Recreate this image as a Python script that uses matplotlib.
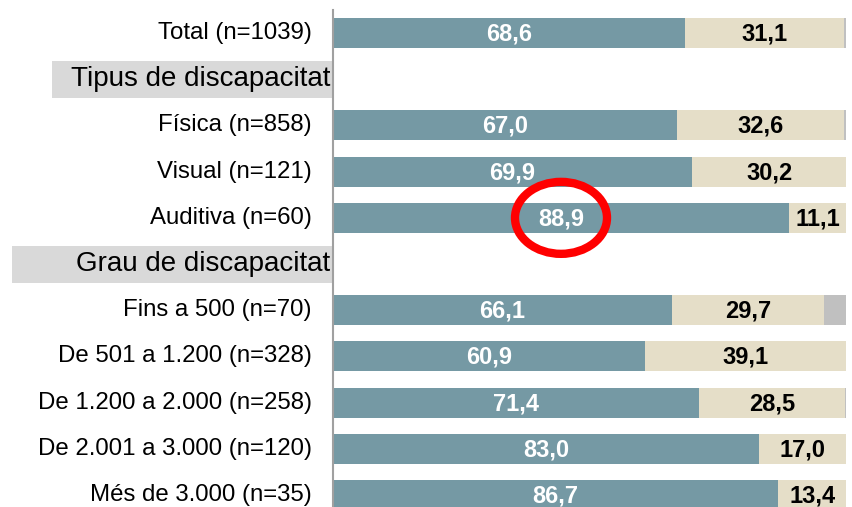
import matplotlib
matplotlib.use("Agg")
import matplotlib.pyplot as plt
from matplotlib.patches import Rectangle, Ellipse
from matplotlib.transforms import blended_transform_factory

plt.rcParams['font.family'] = ['Liberation Sans', 'DejaVu Sans']

labels = ["Total (n=1039)", "Tipus de discapacitat", "Física (n=858)", "Visual (n=121)",
          "Auditiva (n=60)", "Grau de discapacitat", "Fins a 500 (n=70)",
          "De 501 a 1.200 (n=328)", "De 1.200 a 2.000 (n=258)",
          "De 2.001 a 3.000 (n=120)", "Més de 3.000 (n=35)"]
is_header = [False, True, False, False, False, True, False, False, False, False, False]
series_a = [68.6, None, 67.0, 69.9, 88.9, None, 66.1, 60.9, 71.4, 83.0, 86.7]
series_b = [31.1, None, 32.6, 30.2, 11.1, None, 29.7, 39.1, 28.5, 17.0, 13.4]
series_c = [0.3, None, 0.4, 0.0, 0.0, None, 4.2, 0.0, 0.1, 0.0, 0.0]

col_a = "#7599A4"
col_b = "#E5DEC8"
col_c = "#C0C0C0"
col_head = "#D9D9D9"

fig = plt.figure(figsize=(8.52, 5.07), dpi=100)
ax = fig.add_axes([333/852, 0.0, (846-333)/852, 1 - 10/507])

bar_h = 0.65
for i, lab in enumerate(labels):
    if is_header[i]:
        continue
    a, b, c = series_a[i], series_b[i], series_c[i]
    ax.barh(i, a, height=bar_h, left=0, color=col_a)
    ax.barh(i, b, height=bar_h, left=a, color=col_b)
    if c > 0:
        ax.barh(i, c, height=bar_h, left=a + b, color=col_c)
    ax.text(a / 2, i + 0.02, f"{a:.1f}".replace(".", ","), ha="center", va="center",
            color="white", fontsize=17, fontweight="bold")
    ax.text(a + b / 2, i + 0.02, f"{b:.1f}".replace(".", ","), ha="center", va="center",
            color="black", fontsize=17, fontweight="bold")

ax.set_xlim(0, 100)
ax.set_ylim(10.26, -0.5)
ax.set_yticks([])
ax.set_xticks([])
for s in ["top", "right", "bottom"]:
    ax.spines[s].set_visible(False)
ax.spines["left"].set_color("#A0A0A0")
ax.spines["left"].set_linewidth(1.5)

trans = blended_transform_factory(ax.transAxes, ax.transData)
box_left = {1: (52-333)/513, 5: (12-333)/513}
for i, lab in enumerate(labels):
    if is_header[i]:
        x0 = box_left[i]
        ax.add_patch(Rectangle((x0, i - 0.4), -x0, 0.8, transform=trans,
                               facecolor=col_head, edgecolor="none", clip_on=False))
        ax.text(-0.006, i, lab, transform=trans, ha="right", va="center",
                fontsize=20, color="black")
    else:
        ax.text(-0.041, i, lab, transform=trans, ha="right", va="center",
                fontsize=17.3, color="black")

# red hand-drawn highlight circle
ax.add_patch(Ellipse(((561-333)/5.13, 4.0), 92/5.13, 72/46.2, fill=False,
                     edgecolor="#FF0000", linewidth=6, clip_on=False))

fig.savefig("out.png", dpi=100)
